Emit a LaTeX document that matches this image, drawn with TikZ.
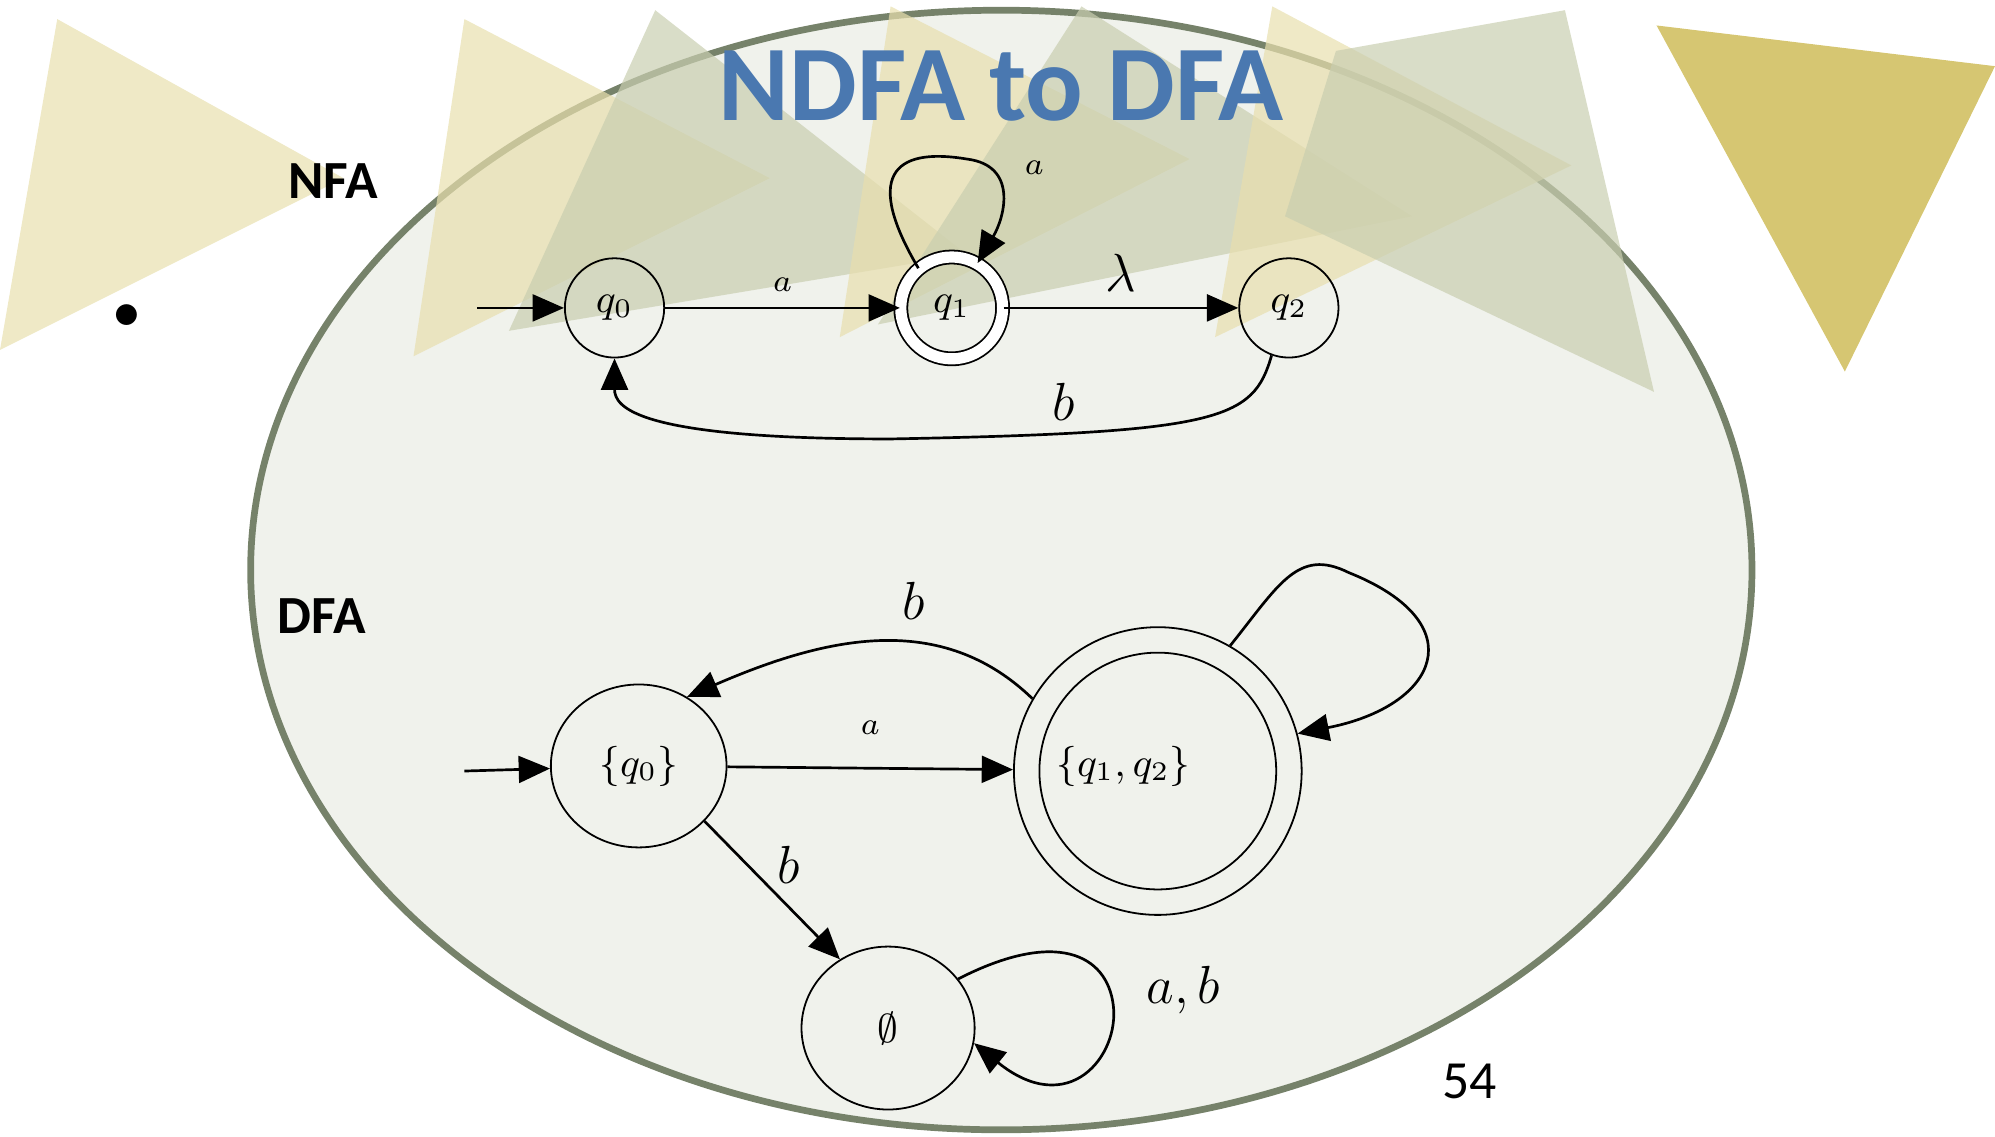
\documentclass[tikz,border=0pt]{standalone}
\usepackage{fontspec}
\setsansfont{Carlito}
\usetikzlibrary{arrows.meta}
\usetikzlibrary{positioning}
\usetikzlibrary{shapes.geometric}

\definecolor{paleyel}{HTML}{E8DFAE}
\definecolor{palegray}{HTML}{C9CEB0}
\definecolor{gold}{HTML}{D6C672}
\definecolor{ovalfill}{HTML}{F0F2EC}
\definecolor{ovaldraw}{HTML}{76826A}
\definecolor{titleblue}{HTML}{4A78B0}

\begin{document}
\begin{tikzpicture}[
    x=0.01cm, y=-0.01cm,
    >={Triangle[length=7pt, width=6pt]},
    every node/.style={font=\small},
    state/.style={circle, draw, minimum size=0.78cm, inner sep=0pt},
    dstate/.style={ellipse, draw, inner sep=0pt},
    edge/.style={->, line width=0.6pt},
    tri/.style={fill opacity=0.7}
]
\useasboundingbox (0,0) rectangle (1568,893);

% Background
\filldraw[fill=ovalfill, draw=ovaldraw, line width=1.5pt]
    (787,448) ellipse [x radius=590, y radius=440];
\fill[paleyel, tri] (45,15) -- (270,140) -- (0,275) -- cycle;
\fill[paleyel, tri] (365,15) -- (605,140) -- (325,280) -- cycle;
\fill[palegray, tri] (515,8) -- (760,200) -- (400,260) -- cycle;
\fill[paleyel, tri] (700,5) -- (935,125) -- (660,265) -- cycle;
\fill[palegray, tri] (850,5) -- (1110,170) -- (690,255) -- cycle;
\fill[paleyel, tri] (1000,5) -- (1235,130) -- (955,265) -- cycle;
\fill[palegray, tri] (1050,40) -- (1230,8) -- (1300,308) -- (1010,170) -- cycle;
\fill[gold] (1302,20) -- (1568,52) -- (1450,292) -- cycle;

% Texts
\node[font=\sffamily\bfseries\fontsize{24}{28}\selectfont, text=titleblue] (title) at (787,68) {NDFA to DFA};
\node[font=\sffamily\bfseries\large] (nfa) at (262,142) {NFA};
\node[font=\sffamily\bfseries\large] (dfa) at (253,484) {DFA};
\node[font=\large] (dot) at (100,249) {$\bullet$};
\node[font=\sffamily\large] (page) at (1155,850) {54};

% NFA nodes
\node[state] (q0) at (483,242) {$q_0$};
\node[state, double, double distance=2.5pt, minimum size=0.8cm] (q1) at (748,242) {$q_1$};
\node[state] (q2) at (1013,242) {$q_2$};
\coordinate (nin) at (375,242);

% NFA edges
\draw[edge] (nin) -- (q0);
\draw[edge] (q0) -- node[above, font=\scriptsize]{$a$} (q1);
\draw[edge] (q1) -- node[above, font=\large]{$\lambda$} (q2);
\draw[edge] (q1.130) .. controls (680,140) and (700,115) .. (760,125) .. controls (800,130) and (790,170) .. (q1.60);
\node[font=\scriptsize] (la) at (813,132) {$a$};
\draw[edge] (q2.250) .. controls (985,330) and (960,340) .. (700,345) .. controls (500,345) and (483,320) .. (q0.south);
\node[font=\large] (lb) at (836,316) {$b$};

% DFA nodes
\node[dstate, minimum width=1.38cm, minimum height=1.28cm] (d0) at (502,602) {$\{q_0\}$};
\node[circle, draw, minimum size=2.26cm] (d12) at (910,606) {};
\node[circle, draw, minimum size=1.86cm] (d12in) at (910,606) {};
\node (d12t) at (883,602) {$\{q_1,q_2\}$};
\node[dstate, minimum width=1.36cm, minimum height=1.28cm] (de) at (698,808) {$\emptyset$};
\coordinate (din) at (365,606);

% DFA edges
\draw[edge] (din) -- (d0);
\draw[edge] (d0) -- node[above=4pt, font=\scriptsize]{$a$} (d12);
\draw[edge] (d12.150) .. controls (740,480) and (650,500) .. (d0.55);
\node[font=\large] (lb2) at (718,472) {$b$};
\draw[edge] (d0.320) -- (de.125);
\node[font=\large] (lb3) at (620,680) {$b$};
\draw[edge] (d12.60) .. controls (1005,460) and (1020,430) .. (1060,450) .. controls (1160,490) and (1130,555) .. (d12.15);
\draw[edge] (de.35) .. controls (830,730) and (870,750) .. (875,790) .. controls (880,830) and (840,880) .. (de.350);
\node[font=\large] (lab) at (930,778) {$a,b$};

\end{tikzpicture}
\end{document}
